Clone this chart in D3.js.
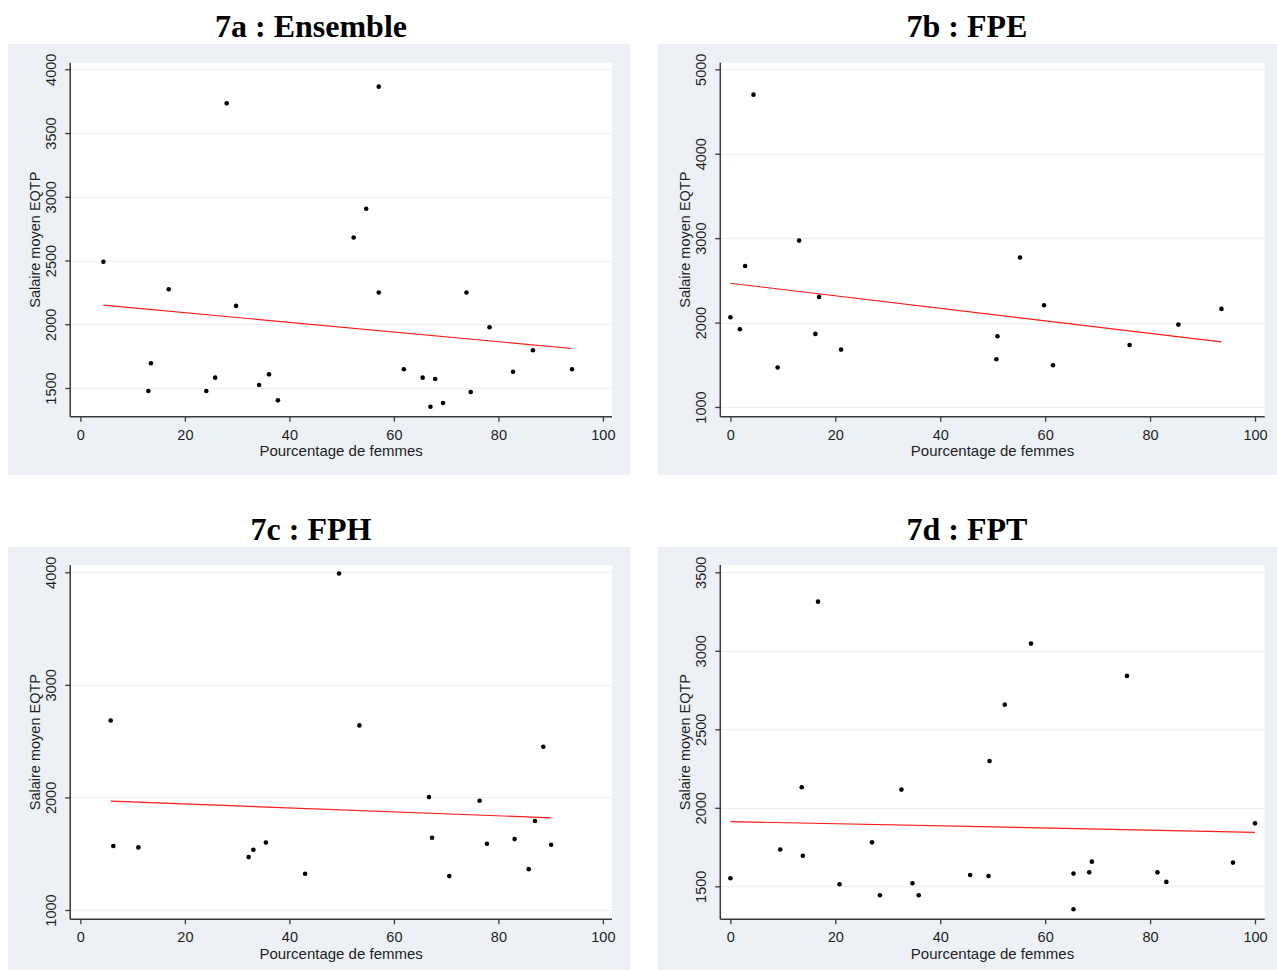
<!DOCTYPE html>
<html>
<head>
<meta charset="utf-8">
<script src="https://cdn.jsdelivr.net/npm/d3@7"></script>
<style>
  html, body { margin: 0; padding: 0; background: #ffffff; }
  svg { display: block; }
  .tick text { font-family: "Liberation Sans", Arial, sans-serif; font-size: 14.5px; fill: #1e1e1e; }
  .axis-title { font-family: "Liberation Sans", Arial, sans-serif; font-size: 14.5px; fill: #1e1e1e; }
  .x-title { font-size: 15px; }
  .panel-title { font-family: "Liberation Serif", "Times New Roman", serif; font-weight: bold; font-size: 32px; fill: #000; }
</style>
</head>
<body>
<script>
// Percentage of women (x) and mean full-time-equivalent salary (y), per occupation
const pctA = [4.4, 13.0, 13.5, 16.9, 24.1, 25.8, 28.0, 29.8, 34.2, 36.1, 37.8, 52.3, 54.7, 57.1, 57.1, 61.9, 65.5, 67.0, 67.9, 69.4, 73.9, 74.7, 78.3, 82.8, 86.6, 94.1];
const salA = [2490, 1476, 1694, 2275, 1476, 1581, 3733, 2144, 1524, 1607, 1403, 2681, 2906, 3864, 2249, 1647, 1581, 1353, 1571, 1382, 2249, 1469, 1976, 1628, 1796, 1647];

const pctB = [0, 1.8, 2.8, 4.4, 9.0, 13.1, 16.2, 16.9, 21.1, 50.7, 50.9, 55.2, 59.8, 61.5, 76.1, 85.4, 93.6];
const salB = [2063, 1921, 2671, 4700, 1467, 2971, 1866, 2304, 1680, 1566, 1838, 2770, 2205, 1495, 1735, 1976, 2162];

const pctC = [5.8, 6.3, 11.1, 32.2, 33.1, 35.5, 43.0, 49.5, 53.4, 66.7, 67.3, 70.6, 76.4, 77.8, 83.1, 85.8, 87.0, 88.6, 90.1];
const salC = [2684, 1568, 1556, 1470, 1535, 1600, 1322, 3990, 2640, 2003, 1642, 1301, 1970, 1588, 1630, 1363, 1790, 2450, 1580];

const pctD = [0, 9.5, 13.6, 13.8, 16.7, 20.8, 27.0, 28.5, 32.6, 34.7, 35.9, 45.7, 49.2, 49.4, 52.3, 57.3, 65.4, 65.4, 68.4, 68.9, 75.6, 81.4, 83.1, 95.8, 100];
const salD = [1551, 1734, 2131, 1695, 3313, 1513, 1780, 1443, 2116, 1519, 1443, 1572, 1566, 2298, 2657, 3046, 1581, 1354, 1589, 1657, 2840, 1589, 1528, 1651, 1901];

// Linear fit (intercept, slope) drawn over each panel's x range
const fitA = [2166.7, -3.79];
const fitB = [2466, -7.43];
const fitC = [1977, -1.756];
const fitD = [1912, -0.68];

// Titles and tick labels
const titles = ["7a : Ensemble", "7b : FPE", "7c : FPH", "7d : FPT"];
const xTicks = [0, 20, 40, 60, 80, 100];
const yTicksA = [1500, 2000, 2500, 3000, 3500, 4000];
const yTicksB = [1000, 2000, 3000, 4000, 5000];
const yTicksC = [1000, 2000, 3000, 4000];
const yTicksD = [1500, 2000, 2500, 3000, 3500];
const xLabel = "Pourcentage de femmes";
const yLabel = "Salaire moyen EQTP";

const W = 1277, H = 970;
const svg = d3.select("body").append("svg").attr("width", W).attr("height", H);

// Panel frames (left/right column, top/bottom row)
const cols = [
  { bg: [8, 630], axisX: 70.2, right: 612, x0px: 80.4, x100px: 602.9, titleX: 311 },
  { bg: [658, 1277], axisX: 720.3, right: 1264.7, x0px: 730.4, x100px: 1255, titleX: 967 }
];
const rows = [
  { bg: [44, 475], top: 62.7, axisY: 416.7, titleY: 37 },
  { bg: [547, 970], top: 565, axisY: 919.3, titleY: 540 }
];

const panels = [
  { col: 0, row: 0, x: pctA, y: salA, fit: fitA, ticks: yTicksA, yRange: [[1500, 388], [4000, 69.3]] },
  { col: 1, row: 0, x: pctB, y: salB, fit: fitB, ticks: yTicksB, yRange: [[1000, 407], [5000, 69.3]] },
  { col: 0, row: 1, x: pctC, y: salC, fit: fitC, ticks: yTicksC, yRange: [[1000, 910], [4000, 572.3]] },
  { col: 1, row: 1, x: pctD, y: salD, fit: fitD, ticks: yTicksD, yRange: [[1500, 886.3], [3500, 572.3]] }
];

panels.forEach((p, i) => {
  const c = cols[p.col], r = rows[p.row];
  const g = svg.append("g");

  // outer graph region and white plot region
  g.append("rect")
    .attr("x", c.bg[0]).attr("y", r.bg[0])
    .attr("width", c.bg[1] - c.bg[0]).attr("height", r.bg[1] - r.bg[0])
    .attr("fill", "#edf1f6");
  g.append("rect")
    .attr("x", c.axisX).attr("y", r.top)
    .attr("width", c.right - c.axisX).attr("height", r.axisY - r.top)
    .attr("fill", "#ffffff");

  const x = d3.scaleLinear().domain([0, 100]).range([c.x0px, c.x100px]);
  const y = d3.scaleLinear()
    .domain([p.yRange[0][0], p.yRange[1][0]])
    .range([p.yRange[0][1], p.yRange[1][1]]);

  // horizontal grid lines
  g.append("g").selectAll("line").data(p.ticks).join("line")
    .attr("x1", c.axisX).attr("x2", c.right)
    .attr("y1", d => Math.round(y(d)) + 0.5).attr("y2", d => Math.round(y(d)) + 0.5)
    .attr("stroke", "#e9eef3").attr("stroke-width", 1.2);

  // fitted line
  const ext = d3.extent(p.x);
  const fitLine = ext.map(v => [v, p.fit[0] + p.fit[1] * v]);
  g.append("path")
    .attr("d", d3.line().x(d => x(d[0])).y(d => y(d[1]))(fitLine))
    .attr("fill", "none").attr("stroke", "#ff1a1a").attr("stroke-width", 1.2);

  // points
  g.append("g").selectAll("circle").data(p.x.map((v, k) => [v, p.y[k]])).join("circle")
    .attr("cx", d => x(d[0])).attr("cy", d => y(d[1]))
    .attr("r", 2.3).attr("fill", "#000");

  // y axis
  const yAxis = g.append("g").attr("transform", `translate(${c.axisX},0)`)
    .call(d3.axisLeft(y).tickValues(p.ticks).tickSize(5).tickFormat(d3.format("d")));
  yAxis.select(".domain").remove();
  yAxis.selectAll(".tick line").attr("stroke", "#3a3a3a").attr("stroke-width", 1.3);
  yAxis.selectAll(".tick text")
    .attr("transform", "rotate(-90)")
    .attr("x", 0).attr("y", -14).attr("dy", null)
    .attr("text-anchor", "middle");
  g.append("line")
    .attr("x1", c.axisX).attr("x2", c.axisX).attr("y1", r.top).attr("y2", r.axisY)
    .attr("stroke", "#3a3a3a").attr("stroke-width", 1.5);

  // x axis
  const xAxis = g.append("g").attr("transform", `translate(0,${r.axisY})`)
    .call(d3.axisBottom(x).tickValues(xTicks).tickSize(5).tickFormat(d3.format("d")));
  xAxis.select(".domain").remove();
  xAxis.selectAll(".tick line").attr("stroke", "#3a3a3a").attr("stroke-width", 1.3);
  xAxis.selectAll(".tick text").attr("y", 23).attr("dy", null);
  g.append("line")
    .attr("x1", c.axisX).attr("x2", c.right).attr("y1", r.axisY).attr("y2", r.axisY)
    .attr("stroke", "#3a3a3a").attr("stroke-width", 1.5);

  // axis titles
  g.append("text").attr("class", "axis-title x-title")
    .attr("x", (c.axisX + c.right) / 2).attr("y", r.axisY + 39.5)
    .attr("text-anchor", "middle").text(xLabel);
  g.append("text").attr("class", "axis-title")
    .attr("transform", `translate(${c.axisX - 30},${(r.top + r.axisY) / 2}) rotate(-90)`)
    .attr("text-anchor", "middle").text(yLabel);

  // panel title
  svg.append("text").attr("class", "panel-title")
    .attr("x", c.titleX).attr("y", r.titleY)
    .attr("text-anchor", "middle").text(titles[i]);
});
</script>
</body>
</html>
